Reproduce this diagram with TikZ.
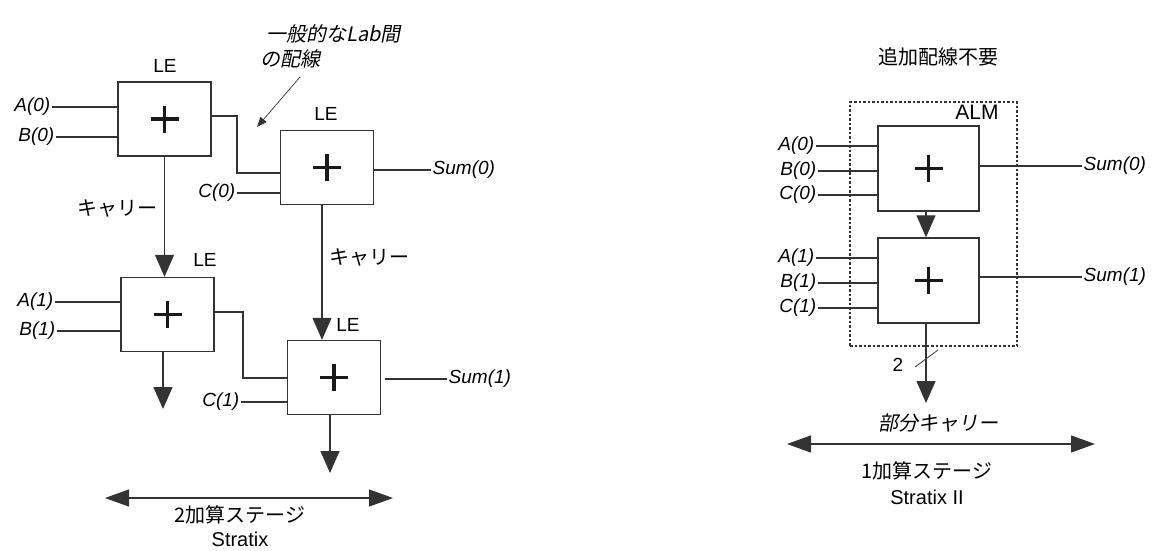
\documentclass[tikz,border=0pt]{standalone}
\usepackage{fontspec}
\setmainfont{Liberation Sans}
\newfontfamily\jpf{Noto Sans CJK JP}
\newfontfamily\jpit[FakeSlant=0.2]{Noto Sans CJK JP}
\usetikzlibrary{arrows.meta,calc}
\tikzset{
 le/.style={draw=black!80, line width=1.4pt, fill=white, minimum width=93pt, minimum height=74pt, inner sep=0pt},
 alm/.style={le, minimum width=101pt, minimum height=85pt},
 wire/.style={line width=1.2pt, draw=black!80},
 carry/.style={wire, -{Triangle[length=22pt,width=19pt]}},
 dbl/.style={wire, {Triangle[length=24pt,width=17pt]}-{Triangle[length=24pt,width=17pt]}},
 lat/.style={font=\fontsize{19}{21}\selectfont, inner sep=1.5pt},
 inp/.style={font=\fontsize{19}{21}\selectfont\itshape, inner sep=1.5pt},
 jp/.style={font=\fontsize{20}{24}\selectfont\jpf, inner sep=1pt},
 jpi/.style={font=\fontsize{20}{24}\selectfont\jpit, inner sep=1pt},
 plusline/.style={line width=3.8pt, draw=black!90},
 note/.style={line width=0.7pt, draw=black!80, -{Triangle[length=10pt,width=8pt]}},
}
\newcommand\plussign[1]{\draw[plusline] ([xshift=-14pt]#1.center) -- ([xshift=14pt]#1.center) ([yshift=-13.5pt]#1.center) -- ([yshift=13.5pt]#1.center);}
\begin{document}
\begin{tikzpicture}[x=1pt,y=-1pt]
\useasboundingbox (0,0) rectangle (1154,550);
% ---------------- left: Stratix ----------------
\node[le] (b1) at (164.5,119) {};
\node[le] (b2) at (327,167.5) {};
\node[le] (b3) at (167.5,314.5) {};
\node[le] (b4) at (334,377.5) {};
\foreach \b in {b1,b2,b3,b4} {\plussign{\b}}
\node[lat] (l1) at (165,66) {LE};
\node[lat] (l2) at (326,114) {LE};
\node[lat] (l3) at (205,260) {LE};
\node[lat] (l4) at (348,325) {LE};
% inputs
\node[inp, anchor=east] (a0) at (52,107) {A(0)};
\node[inp, anchor=east] (bb0) at (56,137) {B(0)};
\node[inp, anchor=east] (c0) at (237,193) {C(0)};
\node[inp, anchor=east] (a1) at (55,302) {A(1)};
\node[inp, anchor=east] (bb1) at (57,331) {B(1)};
\node[inp, anchor=east] (c1) at (241,402) {C(1)};
\draw[wire] (a0.east) -- (a0.east -| b1.west);
\draw[wire] (bb0.east) -- (bb0.east -| b1.west);
\draw[wire] (c0.east) -- (c0.east -| b2.west);
\draw[wire] (a1.east) -- (a1.east -| b3.west);
\draw[wire] (bb1.east) -- (bb1.east -| b3.west);
\draw[wire] (c1.east) -- (c1.east -| b4.west);
% sums
\node[inp, anchor=west] (s0) at (431,170) {Sum(0)};
\node[inp, anchor=west] (s1) at (447,379) {Sum(1)};
\draw[wire] (s0.west -| b2.east) -- (s0.west);
\draw[wire] ([xshift=4pt]s1.west -| b4.east) -- (s1.west);
% inter-LE routing
\coordinate (r1) at (237,116);
\coordinate (r2) at (243,312);
\draw[wire] (b1.east |- r1) -- (r1) -- (r1 |- 0,173) -- (b2.west |- 0,173);
\draw[wire] (b3.east |- r2) -- (r2) -- (r2 |- 0,378) -- (b4.west |- 0,378);
% carries
\draw[carry] (b1.south) -- (b1.south |- b3.north);
\draw[carry] ([xshift=-5pt]b2.south) -- ([xshift=-12pt]b4.north);
\coordinate (e3) at (163,409);
\coordinate (e4) at (330,473);
\draw[carry] (b3.south -| e3) -- (e3);
\draw[carry] (b4.south -| e4) -- (e4);
\node[jp] (k1) at (117,208) {キャリー};
\node[jp] (k2) at (369,257) {キャリー};
% annotation
\node[jpi, anchor=west] (n1) at (265,34) {一般的なLab間};
\node[jpi, anchor=west] (n2) at (259,59) {の配線};
\coordinate (nt) at (300,77);
\coordinate (nh) at (257,127);
\draw[note] (nt) -- (nh);
% stage arrow
\coordinate (d1) at (105,498);
\coordinate (d2) at (393,498);
\draw[dbl] (d1) -- (d2);
\node[jp] (t1) at (240,515) {2加算ステージ};
\node[lat, font=\fontsize{20}{22}\selectfont, inner sep=0pt] (t2) at (240,539) {Stratix};
% ---------------- right: Stratix II ----------------
\node[jp] (t3) at (938,57) {追加配線不要};
\node[draw=black!80, dash pattern=on 2.5pt off 2pt, line width=1.1pt, minimum width=167pt, minimum height=244pt, inner sep=0pt] (almbox) at (933.5,224) {};
\node[lat, font=\fontsize{21}{23}\selectfont] (alml) at (977,112) {ALM};
\node[alm] (b5) at (928.5,168.5) {};
\node[alm] (b6) at (928.5,280.5) {};
\plussign{b5}\plussign{b6}
\draw[carry] ([xshift=-2.5pt]b5.south) -- ([xshift=-2.5pt]b6.north);
\node[inp, anchor=east] (ra0) at (816,146) {A(0)};
\node[inp, anchor=east] (rb0) at (818,171) {B(0)};
\node[inp, anchor=east] (rc0) at (818,195) {C(0)};
\node[inp, anchor=east] (ra1) at (816,258) {A(1)};
\node[inp, anchor=east] (rb1) at (818,283) {B(1)};
\node[inp, anchor=east] (rc1) at (818,308) {C(1)};
\foreach \i in {ra0,rb0,rc0} {\draw[wire] (\i.east) -- (\i.east -| b5.west);}
\foreach \i in {ra1,rb1,rc1} {\draw[wire] (\i.east) -- (\i.east -| b6.west);}
\node[inp, anchor=west] (rs0) at (1082,166) {Sum(0)};
\node[inp, anchor=west] (rs1) at (1082,277) {Sum(1)};
\draw[wire] (rs0.west -| b5.east) -- (rs0.west);
\draw[wire] (rs1.west -| b6.east) -- (rs1.west);
\coordinate (e6) at (926,403);
\draw[carry] (b6.south -| e6) -- (e6);
\coordinate (sl1) at (915,367);
\coordinate (sl2) at (938,350);
\draw[wire, line width=0.8pt] (sl1) -- (sl2);
\node[lat] (two) at (898,365) {2};
\node[jpi] (pc) at (938,423) {部分キャリー};
\coordinate (d3) at (787,444);
\coordinate (d4) at (1095,444);
\draw[dbl] (d3) -- (d4);
\node[jp] (t4) at (927,471) {1加算ステージ};
\node[lat, font=\fontsize{20}{22}\selectfont] (t5) at (927,497) {Stratix II};
\end{tikzpicture}
\end{document}
